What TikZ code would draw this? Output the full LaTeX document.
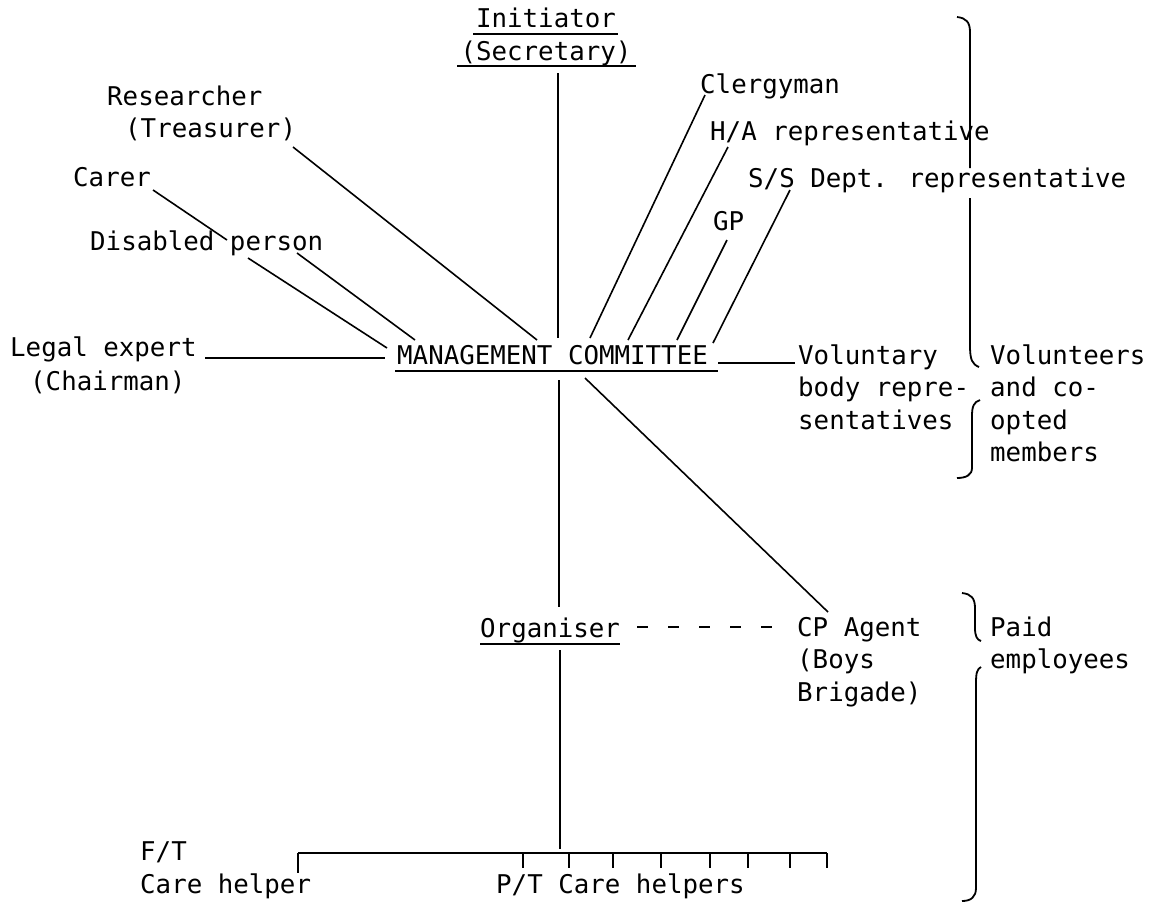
\documentclass[tikz,border=0pt]{standalone}
\usepackage{fontspec}
\setmainfont{DejaVu Sans Mono}
\begin{document}
\begin{tikzpicture}[x=1pt,y=-1pt,
  lbl/.style={inner sep=0pt, anchor=base west, align=left, font=\fontsize{25.8}{32.5}\selectfont},
  conn/.style={line width=1.6pt},
  heavy/.style={line width=2.6pt},
  uline/.style={line width=1.8pt},
  bracep/.style={line width=1.8pt},
  dashline/.style={line width=1.8pt, dash pattern=on 11pt off 20pt}]
\useasboundingbox (0,0) rectangle (1163,903);
% labels (multi-line labels are placed by the baseline of their last line)
\node[lbl, anchor=base] (init) at (546,27) {Initiator};
\node[lbl, anchor=base] (secr) at (546,60) {(Secretary)};
\node[lbl] (res) at (107,105) {Researcher};
\node[lbl] (treas) at (125,137) {(Treasurer)};
\node[lbl] (carer) at (73,186) {Carer};
\node[lbl] (dis) at (90,250) {Disabled person};
\node[lbl] (legal) at (10,356) {Legal expert};
\node[lbl] (chair) at (30,390) {(Chairman)};
\node[lbl] (cler) at (700,93) {Clergyman};
\node[lbl] (ha) at (710,140) {H/A representative};
\node[lbl] (ss) at (748,187) {S/S Dept. representative};
\node[lbl] (gp) at (713,230) {GP};
\node[lbl] (mc) at (397,364) {MANAGEMENT COMMITTEE};
\node[lbl] (vol) at (798,429) {Voluntary\\body repre-\\sentatives};
\node[lbl] (vco) at (990,461.5) {Volunteers\\and co-\\opted\\members};
\node[lbl] (org) at (480,637) {Organiser};
\node[lbl] (cp) at (797,701) {CP Agent\\(Boys\\Brigade)};
\node[lbl] (paid) at (990,668.5) {Paid\\employees};
\node[lbl] (ft) at (140,893) {F/T\\Care helper};
\node[lbl] (pt) at (496,893) {P/T Care helpers};
% underlines
\draw[uline] (473,34) -- (618,34);
\draw[uline] (457,66) -- (636,66);
\draw[uline] (395,371) -- (718,371);
\draw[uline] (480,644) -- (620,644);
% connector end points
\coordinate (secrB) at (558,73);
\coordinate (mcT1) at (558,338);
\coordinate (resE) at (293,147);
\coordinate (mcT0) at (537,340);
\coordinate (clerE) at (705,95);
\coordinate (mcT2) at (590,338);
\coordinate (haE) at (728,147);
\coordinate (mcT3) at (628,340);
\coordinate (gpE) at (727,240);
\coordinate (mcT4) at (677,340);
\coordinate (ssE) at (790,190);
\coordinate (mcT5) at (713,343);
\coordinate (carerE) at (153,190);
\coordinate (disT) at (227,240);
\coordinate (disE1) at (248,258);
\coordinate (mcL1) at (387,348);
\coordinate (disE2) at (297,253);
\coordinate (mcL2) at (415,340);
\coordinate (legalE) at (205,358);
\coordinate (mcL) at (385,358);
\coordinate (mcR) at (718,363);
\coordinate (volW) at (795,363);
\coordinate (mcB) at (559,380);
\coordinate (orgT) at (559,607);
\coordinate (mcB2) at (585,378);
\coordinate (cpT) at (828,612);
\coordinate (orgE) at (637,627);
\coordinate (cpW) at (780,627);
\coordinate (orgB) at (560,650);
\coordinate (barT) at (560,849);
% connectors
\draw[heavy] (secrB) -- (mcT1);
\draw[conn] (resE) -- (mcT0);
\draw[conn] (clerE) -- (mcT2);
\draw[conn] (haE) -- (mcT3);
\draw[conn] (gpE) -- (mcT4);
\draw[conn] (ssE) -- (mcT5);
\draw[conn] (carerE) -- (disT);
\draw[conn] (disE1) -- (mcL1);
\draw[conn] (disE2) -- (mcL2);
\draw[conn] (legalE) -- (mcL);
\draw[conn] (mcR) -- (volW);
\draw[heavy] (mcB) -- (orgT);
\draw[conn] (mcB2) -- (cpT);
\draw[dashline] (orgE) -- (cpW);
\draw[heavy] (orgB) -- (barT);
% bar with ticks
\draw[conn] (298,853) -- (827,853);
\draw[conn] (298,853) -- (298,873);
\foreach \t in {523,569,613,661,710,748,790,827} {
  \draw[conn] (\t,853) -- (\t,868);
}
% braces
\draw[bracep] (957,17) .. controls (966,18) and (970,22) .. (970,32) -- (970,168);
\draw[bracep] (970,198) -- (970,345) .. controls (970,360) and (972,364) .. (979,367);
\draw[bracep] (980,400) .. controls (974,402) and (972,406) .. (972,416) -- (972,468) .. controls (972,475) and (966,478) .. (957,478);
\draw[bracep] (962,593) .. controls (971,594) and (975,598) .. (975,608) -- (975,628) .. controls (975,636) and (977,640) .. (981,641);
\draw[bracep] (981,667) .. controls (977,669) and (976,673) .. (976,683) -- (976,888) .. controls (976,897) and (971,901) .. (962,901);
\end{tikzpicture}
\end{document}
